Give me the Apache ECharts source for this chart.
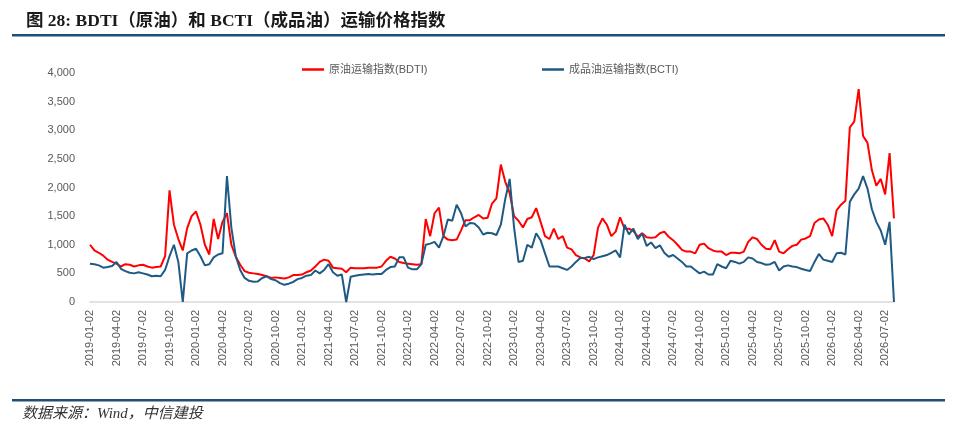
<!DOCTYPE html>
<html>
<head>
<meta charset="utf-8">
<script src="https://cdn.jsdelivr.net/npm/echarts@6/dist/echarts.min.js"></script>
<style>
html,body{margin:0;padding:0;background:#fff;}
#chart{width:960px;height:435px;}
</style>
</head>
<body>
<div id="chart"></div>
<script>
// Semi-monthly sample dates (2nd and 17th of each month)
var dates = [
"2019-01-02","2019-01-17","2019-02-02","2019-02-17","2019-03-02","2019-03-17","2019-04-02","2019-04-17","2019-05-02","2019-05-17","2019-06-02","2019-06-17","2019-07-02","2019-07-17","2019-08-02","2019-08-17","2019-09-02","2019-09-17","2019-10-02","2019-10-17","2019-11-02","2019-11-17","2019-12-02","2019-12-17",
"2020-01-02","2020-01-17","2020-02-02","2020-02-17","2020-03-02","2020-03-17","2020-04-02","2020-04-17","2020-05-02","2020-05-17","2020-06-02","2020-06-17","2020-07-02","2020-07-17","2020-08-02","2020-08-17","2020-09-02","2020-09-17","2020-10-02","2020-10-17","2020-11-02","2020-11-17","2020-12-02","2020-12-17",
"2021-01-02","2021-01-17","2021-02-02","2021-02-17","2021-03-02","2021-03-17","2021-04-02","2021-04-17","2021-05-02","2021-05-17","2021-06-02","2021-06-17","2021-07-02","2021-07-17","2021-08-02","2021-08-17","2021-09-02","2021-09-17","2021-10-02","2021-10-17","2021-11-02","2021-11-17","2021-12-02","2021-12-17",
"2022-01-02","2022-01-17","2022-02-02","2022-02-17","2022-03-02","2022-03-17","2022-04-02","2022-04-17","2022-05-02","2022-05-17","2022-06-02","2022-06-17","2022-07-02","2022-07-17","2022-08-02","2022-08-17","2022-09-02","2022-09-17","2022-10-02","2022-10-17","2022-11-02","2022-11-17","2022-12-02","2022-12-17",
"2023-01-02","2023-01-17","2023-02-02","2023-02-17","2023-03-02","2023-03-17","2023-04-02","2023-04-17","2023-05-02","2023-05-17","2023-06-02","2023-06-17","2023-07-02","2023-07-17","2023-08-02","2023-08-17","2023-09-02","2023-09-17","2023-10-02","2023-10-17","2023-11-02","2023-11-17","2023-12-02","2023-12-17",
"2024-01-02","2024-01-17","2024-02-02","2024-02-17","2024-03-02","2024-03-17","2024-04-02","2024-04-17","2024-05-02","2024-05-17","2024-06-02","2024-06-17","2024-07-02","2024-07-17","2024-08-02","2024-08-17","2024-09-02","2024-09-17","2024-10-02","2024-10-17","2024-11-02","2024-11-17","2024-12-02","2024-12-17",
"2025-01-02","2025-01-17","2025-02-02","2025-02-17","2025-03-02","2025-03-17","2025-04-02","2025-04-17","2025-05-02","2025-05-17","2025-06-02","2025-06-17","2025-07-02","2025-07-17","2025-08-02","2025-08-17","2025-09-02","2025-09-17","2025-10-02","2025-10-17","2025-11-02","2025-11-17","2025-12-02","2025-12-17",
"2026-01-02","2026-01-17","2026-02-02","2026-02-17","2026-03-02","2026-03-17","2026-04-02","2026-04-17","2026-05-02","2026-05-17","2026-06-02","2026-06-17","2026-07-02","2026-07-17","2026-07-30"
];

// 原油运输指数 (BDTI)
var bdti = [
1000,900,860,810,740,700,670,620,660,650,620,640,650,620,600,610,620,800,1950,1350,1100,900,1290,1500,
1580,1350,1000,830,1450,1100,1400,1550,1000,790,650,540,510,500,490,470,450,420,430,420,410,430,470,470,
480,520,550,620,700,740,720,600,590,580,520,600,590,590,590,600,600,600,620,720,790,760,700,680,
670,660,650,660,1450,1150,1550,1650,1150,1090,1080,1090,1250,1430,1430,1480,1520,1460,1470,1720,1810,2400,2100,1900,
1500,1420,1300,1450,1480,1640,1400,1150,1100,1280,1100,1150,950,920,820,780,760,710,820,1300,1460,1350,1150,1230,
1480,1280,1280,1240,1140,1200,1130,1120,1130,1200,1230,1140,1080,1000,910,880,880,850,1000,1020,940,900,880,880,
820,860,860,850,880,1050,1130,1100,1000,930,920,1080,880,850,920,980,1000,1090,1110,1150,1380,1440,1460,1350,
1150,1600,1700,1770,3050,3150,3720,2900,2780,2300,2030,2150,1880,2600,1460
];

// 成品油运输指数 (BCTI)
var bcti = [
670,660,640,600,610,630,700,580,540,510,500,520,500,480,450,460,450,560,800,1000,700,0,850,900,
930,800,640,660,780,830,850,2200,1300,800,560,420,370,355,360,420,450,400,380,330,300,320,350,400,
420,460,470,550,500,560,660,520,460,480,0,440,460,470,480,490,480,490,490,560,610,620,780,780,
600,570,570,660,1000,1020,1050,950,1150,1440,1420,1700,1550,1320,1380,1370,1300,1180,1210,1200,1170,1350,1800,2150,
1300,700,720,1000,950,1200,1080,850,620,620,620,590,560,620,700,770,770,790,750,780,800,820,860,900,
780,1350,1180,1280,1100,1200,980,1040,940,990,860,790,820,760,700,620,620,560,500,530,480,480,660,620,
590,720,700,670,700,780,760,700,680,650,660,700,550,620,640,620,610,580,560,540,700,840,740,720,
700,850,860,830,1750,1880,1980,2200,1980,1620,1400,1250,1000,1400,0
];

var yTicks = [0,500,1000,1500,2000,2500,3000,3500,4000];
var nameBDTI = "原油运输指数(BDTI)";
var nameBCTI = "成品油运输指数(BCTI)";

var FONT = "'Liberation Sans','Noto Sans CJK SC',sans-serif";
var chart = echarts.init(document.getElementById('chart'), null, {renderer:'canvas'});
chart.setOption({
  animation: false,
  backgroundColor: '#ffffff',
  title: {
    text: '图 28: BDTI（原油）和 BCTI（成品油）运输价格指数',
    left: 21, top: 8,
    textStyle: {fontFamily: "'Liberation Serif','Noto Sans CJK SC',serif", fontWeight: 'bold', fontSize: 17.5, color: '#1a1a1a'}
  },
  graphic: [
    {type:'rect', shape:{x:12, y:34, width:933, height:2.5}, style:{fill:'#1f4e79'}},
    {type:'rect', shape:{x:12, y:399, width:933, height:2.5}, style:{fill:'#1f4e79'}},
    {type:'text', left:22, top:407, style:{text:'数据来源：Wind，中信建投', font:"italic 15px 'Liberation Serif','Noto Sans CJK SC',serif", fill:'#333333'}}
  ],
  legend: [
    {data:[nameBDTI], left:297, top:59, icon:'rect', itemWidth:22, itemHeight:2.5, itemGap:5,
     textStyle:{fontFamily:FONT, fontSize:11, color:'#595959'}},
    {data:[nameBCTI], left:537, top:59, icon:'rect', itemWidth:22, itemHeight:2.5, itemGap:5,
     textStyle:{fontFamily:FONT, fontSize:11, color:'#595959'}}
  ],
  grid: {left:90, right:66, top:73, bottom:133, containLabel:false},
  xAxis: {
    type:'category', data: dates, boundaryGap:false,
    axisLine:{show:true, lineStyle:{color:'#d9d9d9', width:1.5}},
    axisTick:{show:false},
    axisLabel:{interval:5, rotate:90, fontFamily:FONT, fontSize:11, color:'#595959', margin:8}
  },
  yAxis: {
    type:'value', min:0, max:4000, interval:500,
    axisLine:{show:false}, axisTick:{show:false}, splitLine:{show:false},
    axisLabel:{fontFamily:FONT, fontSize:11, color:'#595959', margin:15,
      formatter:function(v){ return yTicks.indexOf(v) >= 0 ? v.toLocaleString('en-US') : ''; }}
  },
  series: [
    {name:nameBDTI, type:'line', data:bdti, showSymbol:false, symbol:'none',
     lineStyle:{color:'#ff0000', width:2}, itemStyle:{color:'#ff0000'}},
    {name:nameBCTI, type:'line', data:bcti, showSymbol:false, symbol:'none',
     lineStyle:{color:'#1f5a85', width:2}, itemStyle:{color:'#1f5a85'}}
  ]
});
</script>
</body>
</html>
